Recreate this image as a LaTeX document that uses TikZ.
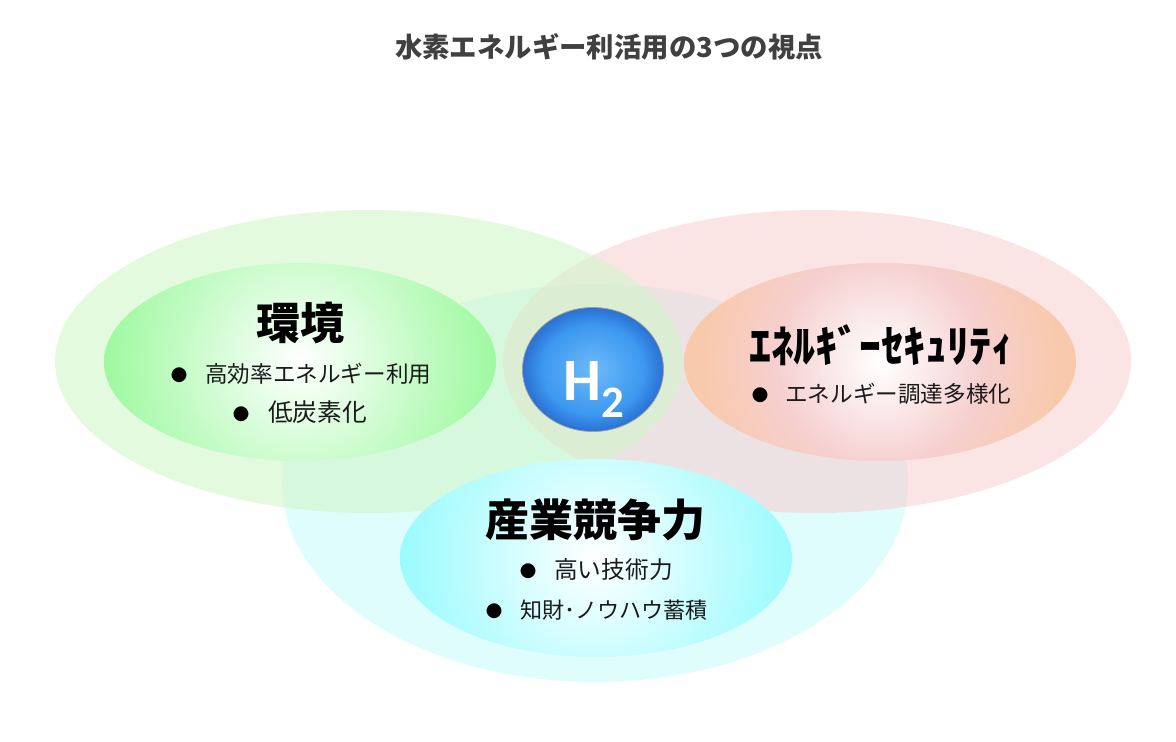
\documentclass[tikz,border=0pt]{standalone}
\usepackage{fontspec}
\setmainfont{Noto Sans CJK JP}
\newfontfamily\symfont{Carlito}
\usetikzlibrary{shapes.geometric}
\definecolor{titlegray}{HTML}{404040}
\definecolor{itemgray}{HTML}{1A1A1A}
\definecolor{paleGreen}{RGB}{208,247,202}
\definecolor{paleRed}{RGB}{247,210,210}
\definecolor{paleCyan}{RGB}{204,252,253}
\definecolor{glowGreen}{RGB}{158,249,160}
\definecolor{glowCyan}{RGB}{154,251,254}
\definecolor{glowRose}{RGB}{246,208,208}
\definecolor{glowOrange}{RGB}{248,201,171}
\definecolor{blueA}{RGB}{110,186,250}
\definecolor{blueB}{RGB}{60,152,240}
\definecolor{blueC}{RGB}{42,112,210}
\pgfdeclareradialshading{roseglow}{\pgfpoint{0bp}{0bp}}{color(0bp)=(white);color(13bp)=(glowRose);color(23bp)=(glowOrange);color(25bp)=(glowOrange);color(50bp)=(glowOrange)}
\pgfdeclareradialshading{blueglow}{\pgfpoint{0bp}{0bp}}{color(0bp)=(blueA);color(18bp)=(blueB);color(25bp)=(blueC);color(50bp)=(blueC)}
\tikzset{
  halo/.style={ellipse,inner sep=0pt,fill opacity=.6},
  core/.style={ellipse,inner sep=0pt,minimum width=392pt,minimum height=198pt,
    path picture={\shade[#1] (path picture bounding box.center) circle (196pt);}},
  head/.style={inner sep=0pt,black,font=\fontsize{44}{44}\selectfont\bfseries},
  itemtext/.style={inner sep=0pt,anchor=base west,itemgray},
  dot/.style={inner sep=0pt,black,font=\fontsize{16.5}{16.5}\selectfont},
}
\begin{document}
\begin{tikzpicture}[x=1pt,y=-1pt]
\useasboundingbox (0,0) rectangle (1176,742);
\node[inner sep=0pt,titlegray,font=\fontsize{27.4}{27.4}\selectfont\bfseries] (title) at (609,47) {水素エネルギー利活用の3つの視点};

% large pale ellipses
\node[halo,fill=paleCyan,minimum width=626pt,minimum height=398pt] (haloCyan) at (595,483) {};
\node[halo,fill=paleRed,minimum width=628pt,minimum height=303pt] (haloRed) at (817,361.5) {};
\node[halo,fill=paleGreen,minimum width=628pt,minimum height=303pt] (haloGreen) at (369,361.5) {};

% inner ellipses
\node[core={inner color=white,outer color=glowGreen}] (coreGreen) at (300,362) {};
\node[core={shading=roseglow}] (coreRed) at (880,362) {};
\node[core={inner color=white,outer color=glowCyan}] (coreCyan) at (596,558) {};

\node[ellipse,inner sep=0pt,minimum width=141pt,minimum height=124pt,shading=blueglow,draw=gray!75,line width=.8pt] (hydrogen) at (593,369.5) {};
\node[inner sep=0pt,white,anchor=base west,font=\fontsize{60}{60}\selectfont\symfont\bfseries] (hsym) at (563,400.5) {H\raisebox{-16.5pt}{\fontsize{45}{45}\selectfont 2}};

\node[head] (headGreen) at (300,323) {環境};
\node[head] (headRed) at (881,345) {ｴﾈﾙｷﾞｰｾｷｭﾘﾃｨ};
\node[head] (headCyan) at (595,520) {産業競争力};

\foreach \i/\xd/\xt/\y/\s/\t in {1/179/205/374/22.6/高効率エネルギー利用,2/241/268/413/24.7/低炭素化,3/760/785/394/22.6/エネルギー調達多様化,4/528/554/570/23.7/高い技術力,5/494/520/610/22.1/知財･ノウハウ蓄積}
{
    \node[dot] (dot\i) at (\xd,\y+1) {●};
    \node[itemtext,font=\fontsize{\s}{\s}\selectfont] (item\i) at (\xt,\y+8.5) {\t};
}
\end{tikzpicture}
\end{document}
